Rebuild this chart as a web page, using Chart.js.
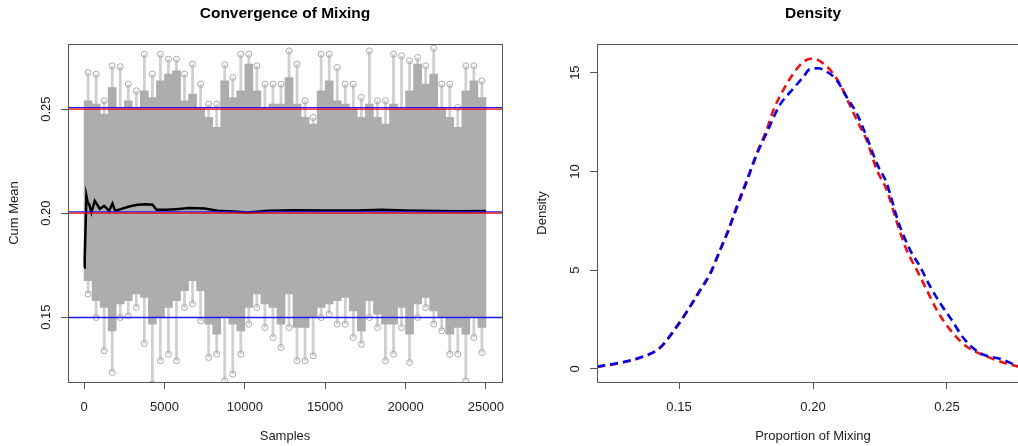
<!DOCTYPE html>
<html>
<head>
<meta charset="utf-8">
<script src="https://cdn.jsdelivr.net/npm/chart.js@4.4.1/dist/chart.umd.min.js"></script>
<style>
  html, body { margin: 0; padding: 0; background: #fff; overflow: hidden; }
  body { width: 1018px; height: 446px; position: relative; }
  .panel { position: absolute; top: 0; height: 446px; }
  #left { left: 0; width: 509px; }
  #right { left: 509px; width: 530px; }
</style>
</head>
<body>
<div class="panel" id="left"><canvas id="mixChart"></canvas></div>
<div class="panel" id="right"><canvas id="densChart"></canvas></div>
<script>
// trace of the chain, summarised per block of 500 samples
const blockMid = [250, 750, 1250, 1750, 2250, 2750, 3250, 3750, 4250, 4750,
    5250, 5750, 6250, 6750, 7250, 7750, 8250, 8750, 9250, 9750,
    10250, 10750, 11250, 11750, 12250, 12750, 13250, 13750, 14250, 14750,
    15250, 15750, 16250, 16750, 17250, 17750, 18250, 18750, 19250, 19750,
    20250, 20750, 21250, 21750, 22250, 22750, 23250, 23750, 24250, 24750];
const traceMax = [0.2676, 0.2668, 0.2540, 0.2708, 0.2704, 0.2620, 0.2588, 0.2764, 0.2668, 0.2764,
    0.2740, 0.2740, 0.2668, 0.2716, 0.2620, 0.2524, 0.2524, 0.2713, 0.2652, 0.2764,
    0.2764, 0.2708, 0.2620, 0.2620, 0.2620, 0.2780, 0.2716, 0.2540, 0.2460, 0.2764,
    0.2764, 0.2700, 0.2620, 0.2620, 0.2556, 0.2780, 0.2540, 0.2540, 0.2764, 0.2756,
    0.2732, 0.2748, 0.2708, 0.2793, 0.2620, 0.2620, 0.2508, 0.2708, 0.2708, 0.2636];
const denseTop = [0.2540, 0.2524, 0.2476, 0.2604, 0.2508, 0.2540, 0.2508, 0.2588, 0.2556, 0.2636,
    0.2668, 0.2684, 0.2540, 0.2572, 0.2508, 0.2460, 0.2412, 0.2636, 0.2556, 0.2588,
    0.2716, 0.2588, 0.2508, 0.2524, 0.2524, 0.2652, 0.2524, 0.2460, 0.2428, 0.2588,
    0.2636, 0.2540, 0.2524, 0.2508, 0.2460, 0.2524, 0.2460, 0.2428, 0.2524, 0.2508,
    0.2588, 0.2716, 0.2620, 0.2668, 0.2508, 0.2460, 0.2412, 0.2588, 0.2636, 0.2556];
const denseBottom = [0.1675, 0.1579, 0.1546, 0.1434, 0.1563, 0.1579, 0.1611, 0.1595, 0.1466, 0.1498,
    0.1546, 0.1579, 0.1627, 0.1675, 0.1627, 0.1466, 0.1418, 0.1498, 0.1466, 0.1434,
    0.1546, 0.1611, 0.1563, 0.1546, 0.1466, 0.1611, 0.1450, 0.1450, 0.1498, 0.1546,
    0.1563, 0.1579, 0.1595, 0.1530, 0.1434, 0.1579, 0.1514, 0.1466, 0.1466, 0.1546,
    0.1418, 0.1563, 0.1595, 0.1530, 0.1498, 0.1418, 0.1450, 0.1418, 0.1498, 0.1450];
const traceMin = [0.1611, 0.1498, 0.1338, 0.1234, 0.1498, 0.1506, 0.1546, 0.1373, 0.1178, 0.1290,
    0.1322, 0.1290, 0.1546, 0.1563, 0.1482, 0.1306, 0.1322, 0.1194, 0.1226, 0.1322,
    0.1466, 0.1546, 0.1450, 0.1402, 0.1354, 0.1450, 0.1290, 0.1290, 0.1314, 0.1498,
    0.1514, 0.1466, 0.1466, 0.1402, 0.1370, 0.1498, 0.1450, 0.1290, 0.1322, 0.1450,
    0.1282, 0.1498, 0.1546, 0.1466, 0.1434, 0.1322, 0.1322, 0.1194, 0.1402, 0.1330];

// cumulative mean
const cumSamples = [0, 40, 145, 230, 312, 457, 665, 831, 977, 1247, 1559, 1766, 1932, 2286, 2806,
    3325, 3845, 4260, 4509, 5091, 5715, 6546, 7500, 8312, 9300, 10180, 11430, 13090, 15000,
    17000, 18500, 20000, 22000, 23500, 25000];
const cumMean = [0.1739, 0.1780, 0.2083, 0.2050, 0.2043, 0.2003, 0.2059, 0.2040, 0.2020, 0.2035,
    0.2011, 0.2046, 0.2011, 0.2019, 0.2032, 0.2040, 0.2043, 0.2040, 0.2016, 0.2016, 0.2019,
    0.2024, 0.2022, 0.2011, 0.2008, 0.2003, 0.2011, 0.2014, 0.2012, 0.2013, 0.2016, 0.2012,
    0.2010, 0.2009, 0.2010];

const blueLines = [0.1498, 0.2006, 0.2507];
const redLines = [0.2000, 0.2500];
const sampleTicks = [0, 5000, 10000, 15000, 20000, 25000];
const meanTicks = [0.15, 0.20, 0.25];
const sampleRange = [-1000, 26000];
const meanRange = [0.1188, 0.2813];

// density curves
const propRed = [0.1195, 0.128, 0.1355, 0.1429, 0.1491, 0.1529, 0.1578, 0.1616, 0.1653, 0.1684,
    0.1715, 0.1753, 0.179, 0.1827, 0.1852, 0.1889, 0.1927, 0.1964, 0.2000, 0.2038, 0.2069,
    0.2106, 0.2137, 0.2169, 0.2200, 0.2238, 0.2275, 0.2318, 0.2349, 0.2387, 0.2424, 0.2461,
    0.2511, 0.2573, 0.2647, 0.2698, 0.2765, 0.2806];
const densRed = [0.10, 0.30, 0.56, 1.06, 2.15, 2.91, 4.0, 4.85, 6.03, 7.04,
    8.22, 9.57, 10.92, 12.1, 13.1, 14.12, 14.96, 15.55, 15.72, 15.47, 15.05,
    14.29, 13.36, 12.44, 11.59, 10.08, 9.06, 7.21, 6.03, 5.02, 4.01, 3.0,
    1.99, 1.14, 0.64, 0.38, 0.13, 0.06];
const propBlue = [0.1195, 0.128, 0.1355, 0.1429, 0.1491, 0.1529, 0.1578, 0.1616, 0.1653, 0.1684,
    0.1715, 0.1753, 0.179, 0.1827, 0.1876, 0.1927, 0.1964, 0.1988, 0.2019, 0.2051, 0.2088,
    0.2125, 0.2163, 0.2200, 0.2238, 0.2275, 0.2318, 0.2362, 0.2399, 0.2437, 0.2474, 0.2517,
    0.2561, 0.2622, 0.2709, 0.2765, 0.2806];
const densBlue = [0.12, 0.32, 0.58, 1.08, 2.12, 2.88, 3.95, 4.8, 6.0, 7.0,
    8.15, 9.5, 10.85, 11.95, 13.36, 14.2, 14.79, 15.17, 15.22, 15.05, 14.63,
    13.78, 12.94, 11.76, 10.41, 9.4, 7.46, 6.03, 5.19, 4.18, 3.34, 2.49,
    1.57, 0.81, 0.47, 0.15, 0.07];
const propTicks = [0.15, 0.20, 0.25];
const densTicks = [0, 5, 10, 15];
const propRange = [0.1194, 0.2806];
const densRange = [-0.66, 16.45];

const FONT = '"Liberation Sans", Arial, sans-serif';
const TXT = '#222';
const FRAME = '#555';

// box round the plot, vertical y tick labels and a title centred on the plot, as R does
const rFrame = {
    id: 'rFrame',
    afterDraw(chart, args, opts) {
        const { ctx, chartArea: a } = chart;
        const y = chart.scales.y;
        ctx.save();
        ctx.strokeStyle = FRAME;
        ctx.lineWidth = 1;
        ctx.strokeRect(Math.round(a.left) + 0.5, Math.round(a.top) + 0.5,
            Math.round(a.right - a.left), Math.round(a.bottom - a.top));
        ctx.fillStyle = TXT;
        ctx.font = '13px ' + FONT;
        ctx.textAlign = 'center';
        ctx.textBaseline = 'middle';
        opts.values.forEach(v => {
            ctx.save();
            ctx.translate(a.left - 22, y.getPixelForValue(v));
            ctx.rotate(-Math.PI / 2);
            ctx.fillText(opts.format(v), 0, 0);
            ctx.restore();
        });
        ctx.fillStyle = '#000';
        ctx.font = 'bold 15.5px ' + FONT;
        ctx.fillText(opts.title, (a.left + a.right) / 2, 14);
        ctx.restore();
    }
};

function xAxis(range, ticks, fmt, label) {
    return {
        type: 'linear', min: range[0], max: range[1], offset: false,
        afterBuildTicks: s => { s.ticks = ticks.map(v => ({ value: v })); },
        afterFit: s => { s.height = 64; s.paddingLeft = 0; s.paddingRight = 0; },
        border: { display: false },
        grid: { offset: false, drawOnChartArea: false, drawTicks: true, tickLength: 7, color: FRAME },
        ticks: { color: TXT, font: { family: FONT, size: 13 }, padding: 11, maxRotation: 0,
                 callback: fmt },
        title: { display: true, text: label, color: TXT, font: { family: FONT, size: 13 },
                 padding: { top: 0, bottom: 2 } }
    };
}

function yAxis(range, ticks, width, label, pad) {
    return {
        type: 'linear', min: range[0], max: range[1],
        afterBuildTicks: s => { s.ticks = ticks.map(v => ({ value: v })); },
        afterFit: s => { s.width = width; s.paddingTop = 0; s.paddingBottom = 0; },
        border: { display: false },
        grid: { drawOnChartArea: false, drawTicks: true, tickLength: 7, color: FRAME },
        ticks: { display: false },
        title: { display: true, text: label, color: TXT, font: { family: FONT, size: 13 },
                 padding: { top: pad, bottom: 0 } }
    };
}

// ---------- left: convergence ----------
const mixDatasets = [];
redLines.forEach(v => mixDatasets.push({
    type: 'line', data: sampleRange.map(x => ({ x: x, y: v })),
    borderColor: '#ff0000', borderWidth: 1.2, pointRadius: 0, order: 0
}));
blueLines.forEach(v => mixDatasets.push({
    type: 'line', data: sampleRange.map(x => ({ x: x, y: v })),
    borderColor: '#1a1aff', borderWidth: 1.4, pointRadius: 0, order: 0
}));
mixDatasets.push({
    type: 'line', data: cumSamples.map((s, i) => ({ x: s, y: cumMean[i] })),
    borderColor: '#000', borderWidth: 2.5, pointRadius: 0, order: 1
});
mixDatasets.push({
    type: 'bar', data: blockMid.map((s, i) => ({ x: s, y: [denseBottom[i], denseTop[i]] })),
    backgroundColor: '#adadad', borderWidth: 0, grouped: false,
    barPercentage: 1, categoryPercentage: 1, order: 2
});
mixDatasets.push({
    type: 'scatter',
    data: blockMid.map((s, i) => ({ x: s, y: traceMax[i] }))
        .concat(blockMid.map((s, i) => ({ x: s, y: traceMin[i] }))),
    pointRadius: 3, borderColor: '#a9a9a9', backgroundColor: 'rgba(0,0,0,0)',
    borderWidth: 1, order: 3
});
mixDatasets.push({
    type: 'bar', data: blockMid.map((s, i) => ({ x: s, y: [traceMin[i], traceMax[i]] })),
    backgroundColor: '#d0d0d0', borderWidth: 0, grouped: false,
    barPercentage: 0.35, categoryPercentage: 1, order: 4
});

new Chart(document.getElementById('mixChart'), {
    type: 'scatter',
    data: { datasets: mixDatasets },
    options: {
        responsive: true, maintainAspectRatio: false, animation: false, events: [],
        layout: { padding: { left: 0, right: 7, top: 44, bottom: 0 } },
        scales: {
            x: xAxis(sampleRange, sampleTicks, v => String(v), 'Samples'),
            y: yAxis(meanRange, meanTicks, 68, 'Cum Mean', 7)
        },
        plugins: {
            legend: { display: false }, tooltip: { enabled: false },
            rFrame: { values: meanTicks, format: v => v.toFixed(2), title: 'Convergence of Mixing' }
        }
    },
    plugins: [rFrame]
});

// ---------- right: density ----------
new Chart(document.getElementById('densChart'), {
    type: 'scatter',
    data: {
        datasets: [
            {
                type: 'line', data: propBlue.map((p, i) => ({ x: p, y: densBlue[i] })),
                borderColor: '#0000ee', borderWidth: 2.6, borderDash: [8, 5],
                pointRadius: 0, cubicInterpolationMode: 'monotone', order: 0
            },
            {
                type: 'line', data: propRed.map((p, i) => ({ x: p, y: densRed[i] })),
                borderColor: '#ee1111', borderWidth: 2.6, borderDash: [8, 5],
                pointRadius: 0, cubicInterpolationMode: 'monotone', order: 1
            }
        ]
    },
    options: {
        responsive: true, maintainAspectRatio: false, animation: false, events: [],
        layout: { padding: { left: 0, right: 10, top: 44, bottom: 0 } },
        scales: {
            x: xAxis(propRange, propTicks, v => v.toFixed(2), 'Proportion of Mixing'),
            y: yAxis(densRange, densTicks, 88, 'Density', 26)
        },
        plugins: {
            legend: { display: false }, tooltip: { enabled: false },
            rFrame: { values: densTicks, format: v => String(v), title: 'Density' }
        }
    },
    plugins: [rFrame]
});
</script>
</body>
</html>
